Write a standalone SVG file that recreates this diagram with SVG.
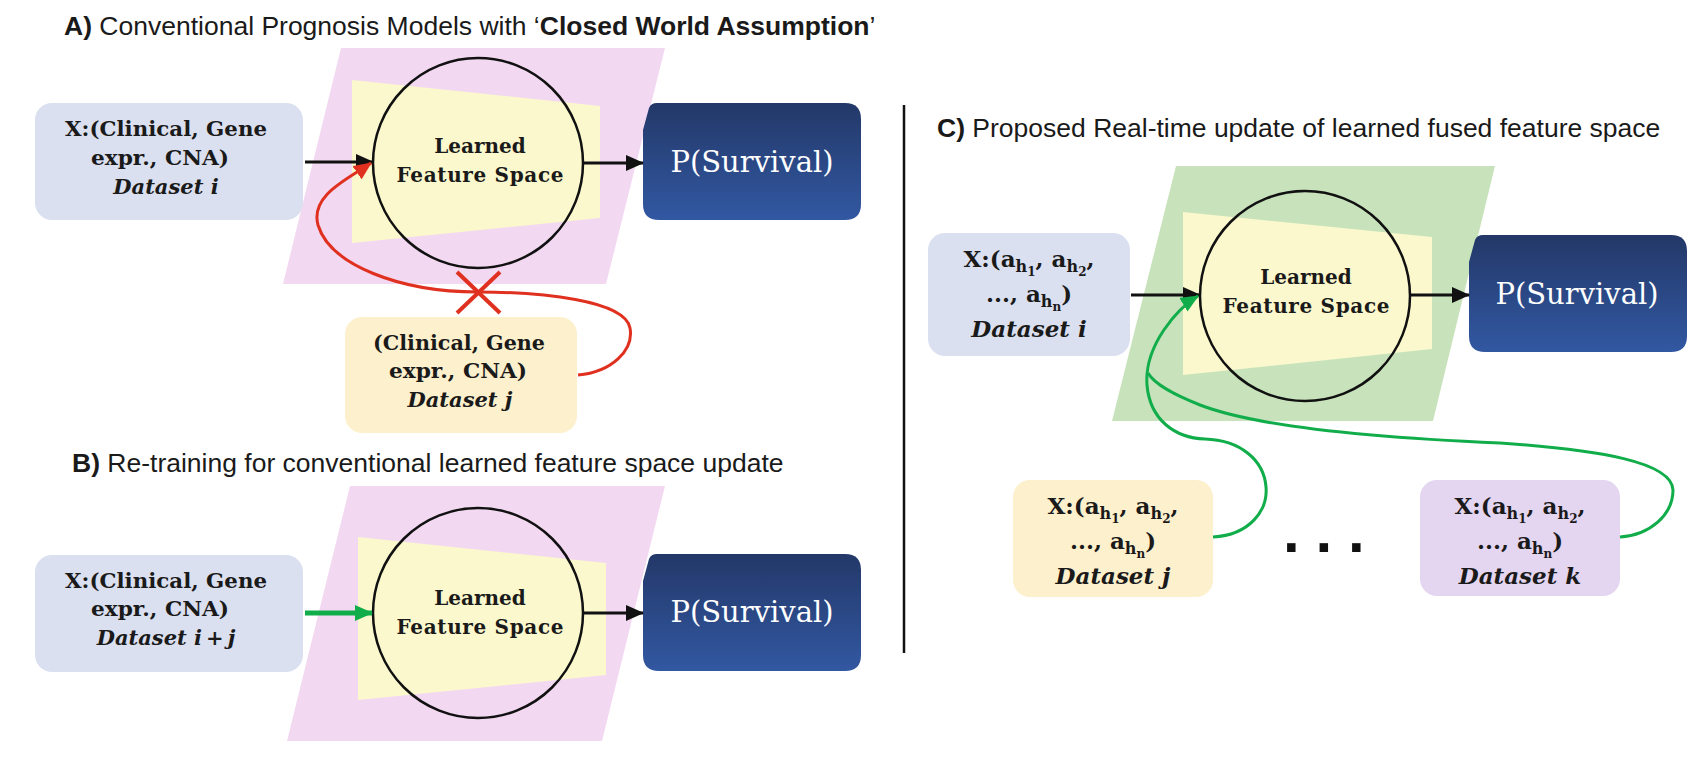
<svg xmlns="http://www.w3.org/2000/svg" width="1701" height="760" viewBox="0 0 1701 760">
<style>
.title{font-family:"Liberation Sans",Arial,sans-serif;font-size:26.5px;fill:#1a1a1a}
.b{font-weight:bold}
.bx{font-family:"DejaVu Serif",serif;font-weight:bold;fill:#1a1a1a;text-anchor:middle}
.ab{font-size:19.5px}
.ai{font-size:21px;font-style:italic}
.cb{font-size:23px}
.ci{font-size:23px;font-style:italic}
.s1{font-size:16px}
.s2{font-size:12px}
.lfs{font-family:"DejaVu Serif",serif;font-weight:bold;font-size:20px;fill:#1a1a1a;text-anchor:middle}
.ps{font-family:"DejaVu Serif",serif;font-size:29px;fill:#ffffff;text-anchor:middle}
.circ{fill:none;stroke:#111111;stroke-width:2.5}
.pink{fill:#f3d8f2}
.green{fill:#c8e3bb}
.yel{fill:#faf8cc}
.blue{fill:#dae0f0}
.ybox{fill:#fdf0cc}
.pubox{fill:#e4d5f0}
.ln{fill:none;stroke:#111111;stroke-width:3}
.red{fill:none;stroke:#e0301f;stroke-width:3}
.grn{fill:none;stroke:#12ad4b;stroke-width:3}
.dots{font-family:"Liberation Sans",Arial,sans-serif;font-weight:bold;font-size:60px;letter-spacing:15.8px;fill:#111111}
</style>
<defs>
<linearGradient id="navy" x1="0" y1="0" x2="0" y2="1">
<stop offset="0" stop-color="#233868"/>
<stop offset="1" stop-color="#3258a2"/>
</linearGradient>
<path id="pshape" d="M0,27 L6,5 Q8,0 14,0 H202 Q218,0 218,16 V101 Q218,117 202,117 H16 Q0,117 0,101 Z" fill="url(#navy)"/>
<marker id="ahB" viewBox="0 0 18 16" refX="17" refY="8" markerWidth="18" markerHeight="16" markerUnits="userSpaceOnUse" orient="auto"><path d="M0,0 L18,8 L0,16 Z" fill="#111111"/></marker>
<marker id="ahR" viewBox="0 0 18 16" refX="17" refY="8" markerWidth="18" markerHeight="16" markerUnits="userSpaceOnUse" orient="auto"><path d="M0,0 L18,8 L0,16 Z" fill="#e0301f"/></marker>
<marker id="ahG" viewBox="0 0 18 16" refX="17" refY="8" markerWidth="18" markerHeight="16" markerUnits="userSpaceOnUse" orient="auto"><path d="M0,0 L18,8 L0,16 Z" fill="#12ad4b"/></marker>
</defs>

<!-- Titles -->
<text class="title" x="64" y="35"><tspan class="b">A)</tspan> Conventional Prognosis Models with ‘<tspan class="b">Closed World Assumption</tspan>’</text>
<text class="title" x="72" y="472"><tspan class="b">B)</tspan> Re-training for conventional learned feature space update</text>
<text class="title" x="937" y="137"><tspan class="b">C)</tspan> Proposed Real-time update of learned fused feature space</text>

<line x1="904" y1="105" x2="904" y2="653" stroke="#111111" stroke-width="2.5"/>

<!-- Panel A -->
<g id="A-space">
<polygon class="pink" points="341,48 665,48 606,284 283,284"/>
<polygon class="yel" points="352,80 600,106 600,218 352,243"/>
<circle class="circ" cx="478" cy="163" r="105"/>
<text class="lfs" x="480" y="153">Learned</text>
<text class="lfs" x="480" y="182" textLength="167" lengthAdjust="spacing">Feature Space</text>
</g>
<g id="A-input">
<rect class="blue" x="35" y="103" width="268" height="117" rx="17"/>
<text class="bx ab" x="166" y="136" textLength="202" lengthAdjust="spacingAndGlyphs">X:(Clinical, Gene</text>
<text class="bx ab" x="160" y="165" textLength="138" lengthAdjust="spacingAndGlyphs">expr., CNA)</text>
<text class="bx ai" x="166" y="194">Dataset i</text>
</g>
<g id="A-output">
<use href="#pshape" x="643" y="103"/>
<text class="ps" x="752" y="172">P(Survival)</text>
</g>
<g id="A-datasetj">
<rect class="ybox" x="345" y="317" width="232" height="116" rx="17"/>
<text class="bx ab" x="459" y="350" textLength="172" lengthAdjust="spacingAndGlyphs">(Clinical, Gene</text>
<text class="bx ab" x="458" y="378" textLength="138" lengthAdjust="spacingAndGlyphs">expr., CNA)</text>
<text class="bx ai" x="460" y="407">Dataset j</text>
</g>

<!-- Panel B -->
<g id="B-space">
<polygon class="pink" points="350,486 665,486 602,741 287,741"/>
<polygon class="yel" points="358,537 606,563 606,675 358,700"/>
<circle class="circ" cx="478" cy="613" r="105"/>
<text class="lfs" x="480" y="605">Learned</text>
<text class="lfs" x="480" y="634" textLength="167" lengthAdjust="spacing">Feature Space</text>
</g>
<g id="B-input">
<rect class="blue" x="35" y="555" width="268" height="117" rx="17"/>
<text class="bx ab" x="166" y="588" textLength="202" lengthAdjust="spacingAndGlyphs">X:(Clinical, Gene</text>
<text class="bx ab" x="160" y="616" textLength="138" lengthAdjust="spacingAndGlyphs">expr., CNA)</text>
<text class="bx ai" x="166" y="645">Dataset i<tspan dx="4">+</tspan><tspan dx="4">j</tspan></text>
</g>
<g id="B-output">
<use href="#pshape" x="643" y="554"/>
<text class="ps" x="752" y="622">P(Survival)</text>
</g>

<!-- Panel C -->
<g id="C-space">
<polygon class="green" points="1176,166 1495,166 1433,421 1112,421"/>
<polygon class="yel" points="1183,212 1432,237 1432,349 1183,375"/>
<circle class="circ" cx="1305" cy="296" r="105"/>
<text class="lfs" x="1306" y="284">Learned</text>
<text class="lfs" x="1306" y="313" textLength="167" lengthAdjust="spacing">Feature Space</text>
</g>
<g id="C-input">
<rect class="blue" x="928" y="233" width="202" height="123" rx="17"/>
<text class="bx cb" x="1029" y="267">X:(a<tspan class="s1" dy="5">h</tspan><tspan class="s2" dy="4">1</tspan><tspan dy="-9">, a</tspan><tspan class="s1" dy="5">h</tspan><tspan class="s2" dy="4">2</tspan><tspan dy="-9">,</tspan></text>
<text class="bx cb" x="1029" y="302">..., a<tspan class="s1" dy="5">h</tspan><tspan class="s2" dy="4">n</tspan><tspan dy="-9">)</tspan></text>
<text class="bx ci" x="1029" y="337">Dataset i</text>
</g>
<g id="C-output">
<use href="#pshape" x="1469" y="235"/>
<text class="ps" x="1577" y="304">P(Survival)</text>
</g>
<g id="C-datasetj">
<rect class="ybox" x="1013" y="480" width="200" height="117" rx="17"/>
<text class="bx cb" x="1113" y="514">X:(a<tspan class="s1" dy="5">h</tspan><tspan class="s2" dy="4">1</tspan><tspan dy="-9">, a</tspan><tspan class="s1" dy="5">h</tspan><tspan class="s2" dy="4">2</tspan><tspan dy="-9">,</tspan></text>
<text class="bx cb" x="1113" y="549">..., a<tspan class="s1" dy="5">h</tspan><tspan class="s2" dy="4">n</tspan><tspan dy="-9">)</tspan></text>
<text class="bx ci" x="1113" y="584">Dataset j</text>
</g>
<g id="C-datasetk">
<rect class="pubox" x="1420" y="480" width="200" height="116" rx="17"/>
<text class="bx cb" x="1520" y="514">X:(a<tspan class="s1" dy="5">h</tspan><tspan class="s2" dy="4">1</tspan><tspan dy="-9">, a</tspan><tspan class="s1" dy="5">h</tspan><tspan class="s2" dy="4">2</tspan><tspan dy="-9">,</tspan></text>
<text class="bx cb" x="1520" y="549">..., a<tspan class="s1" dy="5">h</tspan><tspan class="s2" dy="4">n</tspan><tspan dy="-9">)</tspan></text>
<text class="bx ci" x="1520" y="584">Dataset k</text>
</g>
<text class="dots" x="1283" y="552">...</text>

<!-- Connectors -->
<g id="connectors">
<line class="ln" x1="305" y1="162" x2="373" y2="162" marker-end="url(#ahB)"/>
<line class="ln" x1="583" y1="163" x2="643" y2="163" marker-end="url(#ahB)"/>
<path class="red" d="M578,375 C612,372 634,350 630,328 C625,300 540,292 478,292 C400,292 330,265 318,225 C310,195 348,179 371,163" marker-end="url(#ahR)"/>
<g stroke="#e0301f" stroke-width="4">
<line x1="457" y1="272" x2="500" y2="313"/>
<line x1="500" y1="272" x2="457" y2="313"/>
</g>
<line x1="305" y1="613" x2="372" y2="613" stroke="#12ad4b" stroke-width="5" marker-end="url(#ahG)"/>
<line class="ln" x1="584" y1="613" x2="643" y2="613" marker-end="url(#ahB)"/>
<line class="ln" x1="1131" y1="295" x2="1200" y2="295" marker-end="url(#ahB)"/>
<line class="ln" x1="1410" y1="295" x2="1469" y2="295" marker-end="url(#ahB)"/>
<path class="grn" d="M1213,537 C1250,535 1268,510 1266,487 C1264,460 1240,440 1205,439 C1175,438 1150,420 1147,385 C1144,345 1178,308 1198,296" marker-end="url(#ahG)"/>
<path class="grn" d="M1620,537 C1650,535 1673,515 1673,490 C1672,462 1600,450 1500,443 C1380,438 1260,428 1200,405 C1175,395 1155,385 1148,373"/>
</g>
</svg>
